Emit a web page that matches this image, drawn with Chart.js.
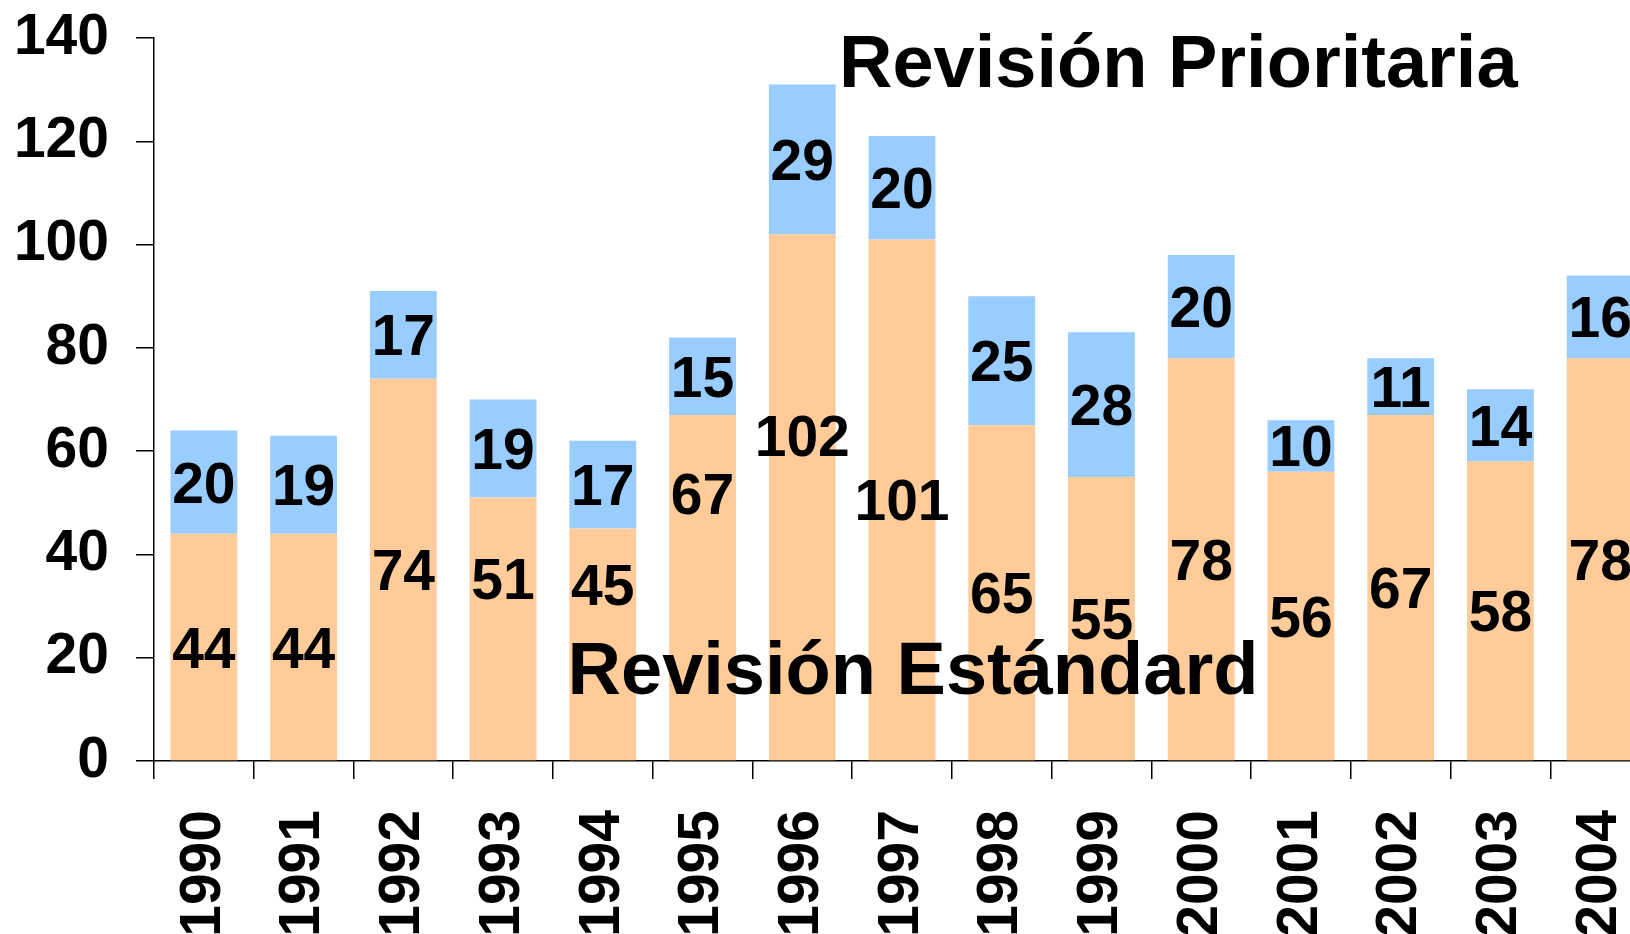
<!DOCTYPE html>
<html>
<head>
<meta charset="utf-8">
<script src="https://cdn.jsdelivr.net/npm/chart.js@4.4.0/dist/chart.umd.min.js"></script>
<style>
  html, body { margin: 0; padding: 0; background: #fff; overflow: hidden; }
  .wrap { width: 1660px; height: 934px; position: relative; }
</style>
</head>
<body>
<div class="wrap"><canvas id="grafico"></canvas></div>
<script>
const years = ["1990", "1991", "1992", "1993", "1994", "1995", "1996", "1997",
               "1998", "1999", "2000", "2001", "2002", "2003", "2004"]
const standard = [44, 44, 74, 51, 45, 67, 102, 101, 65, 55, 78, 56, 67, 58, 78]
const priority = [20, 19, 17, 19, 17, 15, 29, 20, 25, 28, 20, 10, 11, 14, 16]

// in the original a few of the orange labels were pushed up (value units), null = bar middle
const standardLabelAt = [null, null, null, 35.3, 34.1, 51.8, 63, null, null, null, null, null, null, null, null]

const yMin = 0
const yMax = 140
const yStep = 20

const FONT = "'Liberation Sans', Arial, Helvetica, sans-serif"
const SIZE = 57


/* numbers on the bars + the two big captions */
const barLabels = {
    id: "barLabels",
    afterDatasetsDraw(chart) {
        const ctx = chart.ctx
        const x = chart.scales.x
        const y = chart.scales.y

        ctx.save()
        ctx.fillStyle = "#000"
        ctx.textAlign = "center"
        ctx.textBaseline = "alphabetic"
        ctx.font = `bold ${SIZE}px ${FONT}`

        chart.data.datasets.forEach((ds, i) => {
            chart.getDatasetMeta(i).data.forEach((bar, j) => {
                let mid = (bar.y + bar.base) / 2
                if (i === 0 && standardLabelAt[j] !== null) {
                    mid = y.getPixelForValue(standardLabelAt[j])
                }
                ctx.fillText(ds.data[j], bar.x, mid + SIZE * 0.36)
            })
        })

        ctx.font = `bold 74px ${FONT}`
        ctx.fillText("Revisión Prioritaria", x.getPixelForValue(9.77), y.getPixelForValue(130.5))
        ctx.fillText("Revisión Estándard", x.getPixelForValue(7.11), y.getPixelForValue(13))
        ctx.restore()
    }
}


const data = {
    labels: years,
    datasets: [
        {
            label: "Revisión Estándard",
            data: standard,
            backgroundColor: "#FFCC99",
            barPercentage: 0.67,
            categoryPercentage: 1
        },
        {
            label: "Revisión Prioritaria",
            data: priority,
            backgroundColor: "#99CCFF",
            barPercentage: 0.67,
            categoryPercentage: 1
        }
    ]
}

const config = {
    type: "bar",
    data: data,
    plugins: [barLabels],
    options: {
        responsive: true,
        maintainAspectRatio: false,
        animation: false,
        layout: { padding: { top: 38, right: 10, left: 0, bottom: 0 } },
        plugins: {
            legend: { display: false },
            tooltip: { enabled: false }
        },
        scales: {
            x: {
                stacked: true,
                offset: true,
                afterFit: (scale) => {
                    scale.height = 173
                    scale.paddingLeft = 0
                    scale.paddingRight = 0
                },
                border: { display: true, color: "#000", width: 1.5 },
                grid: {
                    display: true,
                    offset: true,
                    drawOnChartArea: false,
                    drawTicks: true,
                    tickLength: 18,
                    color: "#000",
                    lineWidth: 1.5
                },
                ticks: {
                    color: "#000",
                    font: { family: FONT, size: SIZE, weight: "bold" },
                    minRotation: 90,
                    maxRotation: 90,
                    autoSkip: false,
                    padding: 31
                }
            },
            y: {
                stacked: true,
                min: yMin,
                max: yMax,
                afterFit: (scale) => {
                    scale.width = 154
                    scale.paddingTop = 0
                    scale.paddingBottom = 0
                },
                border: { display: true, color: "#000", width: 1.5 },
                grid: {
                    display: true,
                    drawOnChartArea: false,
                    drawTicks: true,
                    tickLength: 18,
                    color: "#000",
                    lineWidth: 1.5
                },
                ticks: {
                    stepSize: yStep,
                    color: "#000",
                    font: { family: FONT, size: SIZE, weight: "bold" },
                    padding: 27
                }
            }
        }
    }
}

new Chart(document.querySelector("#grafico"), config)
</script>
</body>
</html>
